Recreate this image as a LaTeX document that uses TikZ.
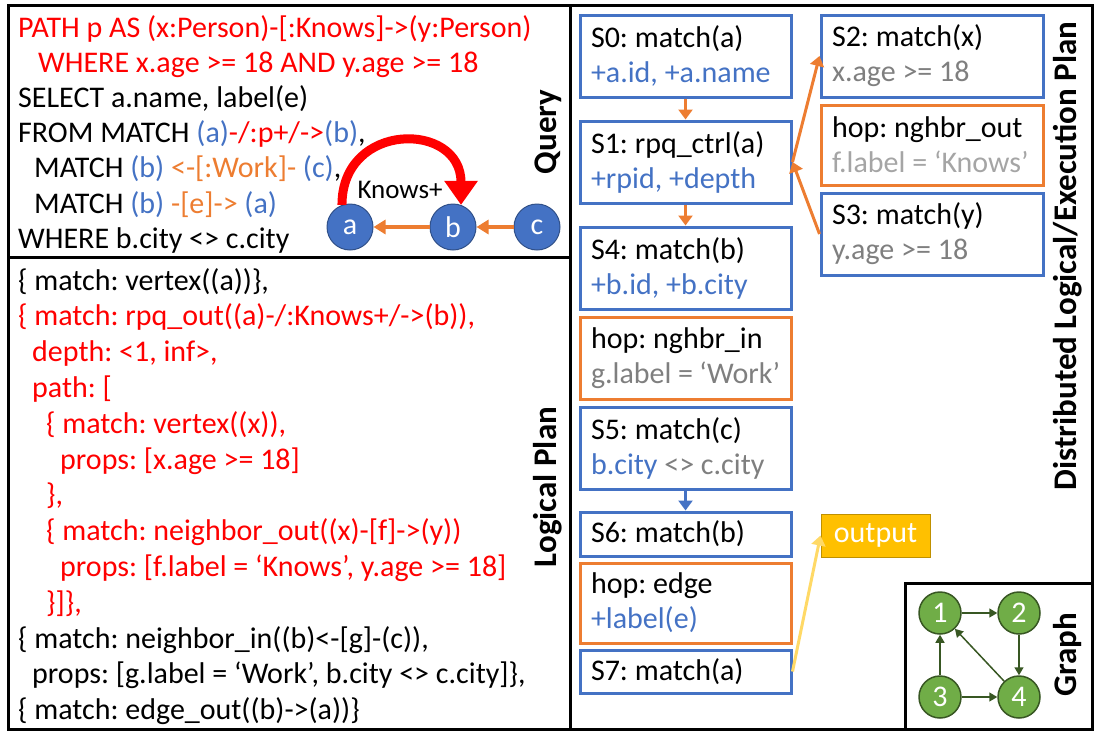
\documentclass[tikz,border=0pt]{standalone}
\usepackage{fontspec}
\setmainfont{Carlito}
\usetikzlibrary{arrows.meta}
\definecolor{qred}{HTML}{FF0000}
\definecolor{qblue}{HTML}{4472C4}
\definecolor{qorange}{HTML}{ED7D31}
\definecolor{qgray}{HTML}{7F7F7F}
\definecolor{qlgray}{HTML}{A5A5A5}
\definecolor{qgold}{HTML}{FFC000}
\definecolor{qyellow}{HTML}{FFD966}
\definecolor{ggreen}{HTML}{70AD47}
\definecolor{gdark}{HTML}{385723}
\tikzset{
  code/.style={anchor=base west, inner sep=0pt},
  paneltitle/.style={rotate=90, font=\fontsize{33}{38}\selectfont\bfseries},
  opbox/.style={draw=qblue, line width=3pt, align=flush left, text width=189pt,
    inner xsep=11pt, inner ysep=3pt, minimum height=82pt},
  opboxr/.style={opbox, text width=200pt},
  flow/.style={line width=3pt, -{Triangle[length=10pt,width=14pt]}},
  qnode/.style={circle, fill=qblue, draw=qblue!70!black, line width=1pt,
    text=white, minimum size=46pt, inner sep=0pt},
  gnode/.style={circle, fill=ggreen, draw=gdark, line width=1.5pt,
    text=white, minimum size=42pt, inner sep=0pt},
  gedge/.style={gdark, line width=1.5pt, -{Triangle[length=8pt,width=9pt]}}
}
\begin{document}
\begin{tikzpicture}[x=1pt, y=-1pt, font=\fontsize{30}{35}\selectfont\frenchspacing]
\useasboundingbox (0,0) rectangle (1094,731);
% panels
\draw[line width=3pt] (8,5) rectangle (570,257);
\draw[line width=3pt] (8,257) rectangle (570,729);
\draw[line width=3pt] (570,5) rectangle (1092,729);
\draw[line width=3pt] (905,583) rectangle (1092,729);
\node[paneltitle] (tq) at (548,132) {Query};
\node[paneltitle] (tl) at (548,487) {Logical Plan};
\node[paneltitle] (td) at (1068,256) {Distributed Logical/Execution Plan};
\node[paneltitle] (tg) at (1068,655) {Graph};
% query
\node[code, text=qred] (q1) at (18,37) {PATH p AS (x:Person)-[:Knows]->(y:Person)};
\node[code, text=qred] (q2) at (38,72.2) {WHERE x.age >= 18 AND y.age >= 18};
\node[code] (q3) at (18,107.4) {SELECT a.name, label(e)};
\node[code] (q4) at (18,142.6) {FROM MATCH \textcolor{qblue}{(a)}\textcolor{qred}{-/:p+/->}\textcolor{qblue}{(b)},};
\node[code] (q5) at (34,177.8) {MATCH \textcolor{qblue}{(b)} \textcolor{qorange}{<-[:Work]-} \textcolor{qblue}{(c)},};
\node[code] (q6) at (34,213) {MATCH \textcolor{qblue}{(b)} \textcolor{qorange}{-[e]->} \textcolor{qblue}{(a)}};
\node[code] (q7) at (18,248.2) {WHERE b.city <> c.city};
\node[qnode] (a) at (350,227) {a};
\node[qnode] (b) at (453,227) {b};
\node[qnode] (c) at (537,227) {c};
\draw[qorange, line width=4pt, -{Triangle[length=12pt,width=14pt]}] (b) -- (a);
\draw[qorange, line width=4pt, -{Triangle[length=12pt,width=14pt]}] (c) -- (b);
\draw[qred, line width=9pt, -{Triangle[length=24pt,width=32pt]}] (a.110) .. controls +(0,-84) and +(0,-84) .. (b.70);
\node[font=\fontsize{27}{32}\selectfont] (kp) at (400,190) {Knows+};
% logical plan
\node[code] (l1) at (18,290) {\{ match: vertex((a))\},};
\node[code, text=qred] (l2) at (18,325.8) {\{ match: rpq\_out((a)-/:Knows+/->(b)),};
\node[code, text=qred] (l3) at (32,361.6) {depth: <1, inf>,};
\node[code, text=qred] (l4) at (32,397.4) {path: [};
\node[code, text=qred] (l5) at (46,433.2) {\{ match: vertex((x)),};
\node[code, text=qred] (l6) at (60,469) {props: [x.age >= 18]};
\node[code, text=qred] (l7) at (46,504.8) {\},};
\node[code, text=qred] (l8) at (46,540.6) {\{ match: neighbor\_out((x)-[f]->(y))};
\node[code, text=qred] (l9) at (60,576.4) {props: [f.label = ‘Knows’, y.age >= 18]};
\node[code, text=qred] (l10) at (46,612.2) {\}]\},};
\node[code] (l11) at (18,648) {\{ match: neighbor\_in((b)<-[g]-(c)),};
\node[code] (l12) at (32,683.8) {props: [g.label = ‘Work’, b.city <> c.city]\},};
\node[code] (l13) at (18,719.6) {\{ match: edge\_out((b)->(a))\}};
% execution plan
\node[opbox] (s0) at (685.5,56) {S0: match(a)\\\textcolor{qblue}{+a.id, +a.name}};
\node[opbox] (s1) at (685.5,162) {S1: rpq\_ctrl(a)\\\textcolor{qblue}{+rpid, +depth}};
\node[opbox] (s4) at (685.5,268) {S4: match(b)\\\textcolor{qblue}{+b.id, +b.city}};
\node[opbox, draw=qorange] (hin) at (685.5,358) {hop: nghbr\_in\\\textcolor{qgray}{g.label = ‘Work’}};
\node[opbox] (s5) at (685.5,448) {S5: match(c)\\\textcolor{qblue}{b.city} \textcolor{qgray}{<> c.city}};
\node[opbox, minimum height=44pt] (s6) at (685.5,534) {S6: match(b)};
\node[opbox, draw=qorange, minimum height=80pt] (hedge) at (685.5,603) {hop: edge\\\textcolor{qblue}{+label(e)}};
\node[opbox, minimum height=43pt] (s7) at (685.5,671.5) {S7: match(a)};
\node[opboxr] (s2) at (932,56) {S2: match(x)\\\textcolor{qgray}{x.age >= 18}};
\node[opboxr, draw=qorange, minimum height=80pt] (hout) at (932,145) {hop: nghbr\_out\\\textcolor{qlgray}{f.label = ‘Knows’}};
\node[opboxr] (s3) at (932,234) {S3: match(y)\\\textcolor{qgray}{y.age >= 18}};
\node[fill=qgold, draw=qgold!75!black, line width=1pt, text=white, minimum width=109pt, minimum height=43pt] (out) at (875.5,535.5) {output};
\draw[flow, qorange] (s0) -- (s1);
\draw[flow, qorange] (s1) -- (s4);
\draw[flow, qblue] (s5) -- (s6);
\draw[flow, qorange] (s1.east) -- (s2.west);
\draw[flow, qorange] (s3.west) -- (s1.east);
\draw[flow, qyellow] (s7.east) -- (out.west);
% graph
\node[gnode] (g1) at (940,613) {1};
\node[gnode] (g2) at (1019,613) {2};
\node[gnode] (g3) at (940,697) {3};
\node[gnode] (g4) at (1019,697) {4};
\draw[gedge] (g1) -- (g2);
\draw[gedge] (g2) -- (g4);
\draw[gedge] (g3) -- (g4);
\draw[gedge] (g3) -- (g1);
\draw[gedge] (g4) -- (g1);
\end{tikzpicture}
\end{document}
